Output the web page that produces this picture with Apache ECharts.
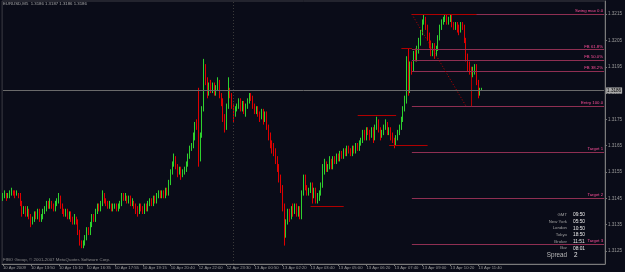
<!DOCTYPE html>
<html><head><meta charset="utf-8">
<script src="https://cdn.jsdelivr.net/npm/echarts@6/dist/echarts.min.js"></script>
<style>html,body{margin:0;padding:0;background:#0a0c18;}#c{width:625px;height:272px;}</style>
</head><body><div id="c"></div>
<script>
// ---- data (EURUSD M5) ----
const opens = [
1.3145,1.3146,1.3147,1.3145,1.3146,1.3147,1.3148,1.3147,1.3146,1.3147,
1.3146,1.3143,1.3140,1.3141,1.3139,1.3141,1.3138,1.3136,1.3137,1.3139,
1.3138,1.3140,1.3137,1.3138,1.3140,1.3141,1.3143,1.3142,1.3144,1.3142,
1.3141,1.3143,1.3144,1.3146,1.3142,1.3140,1.3139,1.3140,1.3138,1.3139,
1.3137,1.3136,1.3138,1.3136,1.3132,1.3128,1.3127,1.3128,1.3130,1.3133,
1.3132,1.3135,1.3138,1.3137,1.3140,1.3142,1.3141,1.3143,1.3147,1.3144,
1.3143,1.3142,1.3143,1.3141,1.3142,1.3142,1.3141,1.3142,1.3143,1.3146,
1.3145,1.3146,1.3144,1.3145,1.3143,1.3144,1.3142,1.3141,1.3140,1.3142,
1.3141,1.3140,1.3142,1.3141,1.3143,1.3144,1.3143,1.3145,1.3144,1.3146,
1.3147,1.3146,1.3147,1.3146,1.3148,1.3147,1.3151,1.3155,1.3158,1.3160,
1.3157,1.3155,1.3156,1.3154,1.3155,1.3156,1.3158,1.3161,1.3164,1.3165,
1.3168,1.3173,1.3172,1.3160,1.3169,1.3179,1.3195,1.3190,1.3185,1.3188,
1.3186,1.3188,1.3185,1.3187,1.3189,1.3184,1.3182,1.3176,1.3172,1.3180,
1.3186,1.3184,1.3180,1.3177,1.3179,1.3180,1.3182,1.3179,1.3181,1.3178,
1.3180,1.3182,1.3184,1.3183,1.3180,1.3178,1.3179,1.3177,1.3176,1.3178,
1.3175,1.3177,1.3172,1.3169,1.3166,1.3164,1.3163,1.3160,1.3157,1.3153,
1.3149,1.3142,1.3132,1.3136,1.3140,1.3138,1.3141,1.3140,1.3142,1.3139,
1.3141,1.3138,1.3147,1.3152,1.3149,1.3147,1.3148,1.3150,1.3146,1.3148,
1.3144,1.3145,1.3147,1.3150,1.3155,1.3158,1.3156,1.3157,1.3159,1.3157,
1.3160,1.3159,1.3161,1.3160,1.3162,1.3161,1.3163,1.3162,1.3164,1.3163,
1.3162,1.3164,1.3163,1.3165,1.3164,1.3166,1.3167,1.3170,1.3168,1.3171,
1.3170,1.3169,1.3171,1.3168,1.3172,1.3174,1.3171,1.3169,1.3170,1.3172,
1.3173,1.3170,1.3171,1.3169,1.3167,1.3166,1.3168,1.3170,1.3172,1.3175,
1.3179,1.3182,1.3196,1.3186,1.3196,1.3194,1.3200,1.3198,1.3201,1.3204,
1.3208,1.3212,1.3213,1.3210,1.3207,1.3204,1.3201,1.3203,1.3200,1.3202,
1.3206,1.3210,1.3212,1.3213,1.3214,1.3212,1.3213,1.3214,1.3211,1.3210,
1.3211,1.3210,1.3209,1.3211,1.3210,1.3205,1.3199,1.3195,1.3194,1.3192,
1.3193,1.3195,1.3189,1.3185,1.3186];
const closes = [
1.3146,1.3147,1.3145,1.3146,1.3147,1.3148,1.3147,1.3146,1.3147,1.3146,
1.3143,1.3140,1.3141,1.3139,1.3141,1.3138,1.3136,1.3137,1.3139,1.3138,
1.3140,1.3137,1.3138,1.3140,1.3141,1.3143,1.3142,1.3144,1.3142,1.3141,
1.3143,1.3144,1.3146,1.3142,1.3140,1.3139,1.3140,1.3138,1.3139,1.3137,
1.3136,1.3138,1.3136,1.3132,1.3128,1.3127,1.3128,1.3130,1.3133,1.3132,
1.3135,1.3138,1.3137,1.3140,1.3142,1.3141,1.3143,1.3147,1.3144,1.3143,
1.3142,1.3143,1.3141,1.3142,1.3142,1.3141,1.3142,1.3143,1.3146,1.3145,
1.3146,1.3144,1.3145,1.3143,1.3144,1.3142,1.3141,1.3140,1.3142,1.3141,
1.3140,1.3142,1.3141,1.3143,1.3144,1.3143,1.3145,1.3144,1.3146,1.3147,
1.3146,1.3147,1.3146,1.3148,1.3147,1.3151,1.3155,1.3158,1.3160,1.3157,
1.3155,1.3156,1.3154,1.3155,1.3156,1.3158,1.3161,1.3164,1.3165,1.3168,
1.3173,1.3172,1.3160,1.3169,1.3179,1.3195,1.3190,1.3185,1.3188,1.3186,
1.3188,1.3185,1.3187,1.3189,1.3184,1.3182,1.3176,1.3172,1.3180,1.3186,
1.3184,1.3180,1.3177,1.3179,1.3180,1.3182,1.3179,1.3181,1.3178,1.3180,
1.3182,1.3184,1.3183,1.3180,1.3178,1.3179,1.3177,1.3176,1.3178,1.3175,
1.3177,1.3172,1.3169,1.3166,1.3164,1.3163,1.3160,1.3157,1.3153,1.3149,
1.3142,1.3132,1.3136,1.3140,1.3138,1.3141,1.3140,1.3142,1.3139,1.3141,
1.3138,1.3147,1.3152,1.3149,1.3147,1.3148,1.3150,1.3146,1.3148,1.3144,
1.3145,1.3147,1.3150,1.3155,1.3158,1.3156,1.3157,1.3159,1.3157,1.3160,
1.3159,1.3161,1.3160,1.3162,1.3161,1.3163,1.3162,1.3164,1.3163,1.3162,
1.3164,1.3163,1.3165,1.3164,1.3166,1.3167,1.3170,1.3168,1.3171,1.3170,
1.3169,1.3171,1.3168,1.3172,1.3174,1.3171,1.3169,1.3170,1.3172,1.3173,
1.3170,1.3171,1.3169,1.3167,1.3166,1.3168,1.3170,1.3172,1.3175,1.3179,
1.3182,1.3196,1.3186,1.3196,1.3194,1.3200,1.3198,1.3201,1.3204,1.3208,
1.3212,1.3213,1.3210,1.3207,1.3204,1.3201,1.3203,1.3200,1.3202,1.3206,
1.3210,1.3212,1.3213,1.3214,1.3212,1.3213,1.3214,1.3211,1.3210,1.3211,
1.3210,1.3209,1.3211,1.3210,1.3205,1.3199,1.3195,1.3194,1.3192,1.3193,
1.3195,1.3189,1.3185,1.3186,1.3186];
const highs = [
1.3147,1.3148,1.3147,1.3147,1.3148,1.3149,1.3148,1.3148,1.3148,1.3147,
1.3147,1.3144,1.3142,1.3142,1.3142,1.3141,1.3139,1.3138,1.3140,1.3140,
1.3141,1.3141,1.3139,1.3141,1.3142,1.3144,1.3144,1.3145,1.3144,1.3143,
1.3144,1.3145,1.3147,1.3146,1.3143,1.3141,1.3141,1.3141,1.3140,1.3140,
1.3138,1.3139,1.3138,1.3137,1.3133,1.3129,1.3129,1.3131,1.3134,1.3134,
1.3136,1.3139,1.3139,1.3141,1.3143,1.3143,1.3144,1.3148,1.3147,1.3145,
1.3144,1.3144,1.3143,1.3143,1.3143,1.3143,1.3143,1.3144,1.3147,1.3147,
1.3147,1.3146,1.3146,1.3146,1.3145,1.3144,1.3143,1.3142,1.3143,1.3143,
1.3142,1.3143,1.3143,1.3144,1.3145,1.3145,1.3146,1.3146,1.3147,1.3148,
1.3148,1.3148,1.3148,1.3149,1.3149,1.3152,1.3156,1.3159,1.3162,1.3161,
1.3158,1.3157,1.3157,1.3156,1.3157,1.3159,1.3162,1.3165,1.3166,1.3170,
1.3174,1.3175,1.3187,1.3170,1.3180,1.3198,1.3196,1.3191,1.3189,1.3190,
1.3189,1.3189,1.3188,1.3191,1.3190,1.3185,1.3183,1.3177,1.3181,1.3191,
1.3187,1.3185,1.3181,1.3180,1.3181,1.3183,1.3183,1.3182,1.3182,1.3181,
1.3183,1.3185,1.3185,1.3184,1.3181,1.3180,1.3180,1.3178,1.3179,1.3179,
1.3178,1.3178,1.3173,1.3170,1.3167,1.3166,1.3164,1.3161,1.3158,1.3154,
1.3150,1.3143,1.3137,1.3141,1.3141,1.3142,1.3143,1.3143,1.3143,1.3142,
1.3142,1.3148,1.3154,1.3154,1.3150,1.3149,1.3151,1.3151,1.3149,1.3149,
1.3147,1.3148,1.3151,1.3158,1.3160,1.3159,1.3158,1.3161,1.3160,1.3161,
1.3161,1.3162,1.3162,1.3163,1.3163,1.3164,1.3164,1.3165,1.3165,1.3164,
1.3165,1.3165,1.3166,1.3166,1.3167,1.3168,1.3171,1.3171,1.3172,1.3172,
1.3171,1.3172,1.3172,1.3173,1.3176,1.3175,1.3172,1.3171,1.3173,1.3175,
1.3174,1.3172,1.3172,1.3170,1.3168,1.3169,1.3171,1.3173,1.3176,1.3180,
1.3184,1.3199,1.3202,1.3197,1.3197,1.3201,1.3202,1.3203,1.3206,1.3209,
1.3213,1.3215,1.3214,1.3211,1.3208,1.3205,1.3204,1.3204,1.3203,1.3207,
1.3211,1.3213,1.3214,1.3215,1.3215,1.3214,1.3215,1.3215,1.3212,1.3212,
1.3212,1.3211,1.3212,1.3212,1.3211,1.3206,1.3200,1.3197,1.3195,1.3195,
1.3196,1.3196,1.3190,1.3187,1.3187];
const lows = [
1.3144,1.3145,1.3144,1.3145,1.3145,1.3146,1.3146,1.3145,1.3146,1.3145,
1.3142,1.3138,1.3139,1.3138,1.3138,1.3137,1.3134,1.3135,1.3136,1.3137,
1.3137,1.3136,1.3136,1.3137,1.3139,1.3140,1.3141,1.3141,1.3141,1.3140,
1.3140,1.3142,1.3143,1.3141,1.3139,1.3138,1.3138,1.3137,1.3137,1.3136,
1.3135,1.3135,1.3135,1.3131,1.3127,1.3126,1.3126,1.3127,1.3129,1.3131,
1.3131,1.3134,1.3136,1.3136,1.3139,1.3140,1.3140,1.3142,1.3143,1.3142,
1.3141,1.3141,1.3140,1.3140,1.3141,1.3140,1.3140,1.3141,1.3142,1.3144,
1.3144,1.3143,1.3143,1.3142,1.3142,1.3141,1.3139,1.3138,1.3139,1.3140,
1.3139,1.3139,1.3140,1.3140,1.3142,1.3142,1.3142,1.3143,1.3143,1.3145,
1.3145,1.3145,1.3145,1.3145,1.3146,1.3146,1.3150,1.3154,1.3157,1.3156,
1.3153,1.3154,1.3152,1.3153,1.3154,1.3155,1.3157,1.3160,1.3163,1.3164,
1.3167,1.3171,1.3157,1.3159,1.3168,1.3178,1.3188,1.3183,1.3184,1.3185,
1.3185,1.3184,1.3184,1.3186,1.3183,1.3180,1.3174,1.3170,1.3171,1.3179,
1.3183,1.3179,1.3174,1.3176,1.3178,1.3179,1.3178,1.3178,1.3177,1.3176,
1.3179,1.3181,1.3182,1.3179,1.3177,1.3177,1.3176,1.3174,1.3175,1.3173,
1.3174,1.3171,1.3167,1.3164,1.3162,1.3161,1.3158,1.3155,1.3151,1.3147,
1.3140,1.3127,1.3130,1.3135,1.3136,1.3137,1.3138,1.3139,1.3138,1.3138,
1.3137,1.3137,1.3146,1.3148,1.3146,1.3146,1.3147,1.3143,1.3145,1.3143,
1.3143,1.3144,1.3146,1.3149,1.3154,1.3155,1.3155,1.3156,1.3156,1.3156,
1.3158,1.3158,1.3159,1.3159,1.3160,1.3160,1.3161,1.3161,1.3162,1.3161,
1.3161,1.3162,1.3162,1.3163,1.3163,1.3165,1.3166,1.3167,1.3167,1.3169,
1.3167,1.3168,1.3166,1.3167,1.3171,1.3170,1.3167,1.3168,1.3169,1.3171,
1.3169,1.3169,1.3167,1.3166,1.3164,1.3165,1.3167,1.3169,1.3171,1.3174,
1.3178,1.3181,1.3184,1.3185,1.3192,1.3193,1.3197,1.3197,1.3200,1.3203,
1.3207,1.3211,1.3209,1.3205,1.3202,1.3199,1.3199,1.3198,1.3199,1.3201,
1.3205,1.3209,1.3211,1.3212,1.3211,1.3211,1.3212,1.3210,1.3209,1.3209,
1.3208,1.3207,1.3208,1.3209,1.3204,1.3197,1.3193,1.3192,1.3190,1.3191,
1.3192,1.3188,1.3183,1.3184,1.3186];

const xTickLabels = ["10 Apr 2009","10 Apr 13:50","10 Apr 15:10","10 Apr 16:35","10 Apr 17:55","10 Apr 19:15",
  "10 Apr 20:40","12 Apr 22:00","12 Apr 23:30","13 Apr 00:50","13 Apr 02:20","13 Apr 03:40","13 Apr 05:00",
  "13 Apr 06:20","13 Apr 07:40","13 Apr 09:00","13 Apr 10:20","13 Apr 11:40"];
const barsPerLabel = 16;
const totalSlots = 345;            // bars + empty chart shift on the right
const yTickLabels = [1.3125,1.3135,1.3145,1.3155,1.3165,1.3175,1.3185,1.3195,1.3205,1.3215];

const fibNames  = ["Swing max 0.0","FB 61.8%","FB 50.0%","FB 38.2%","Entry 100.0","Target 1","Target 2","Target 3"];
const fibLevels = [1.3215,1.32016,1.31975,1.31934,1.3180,1.31625,1.3145,1.31275];
const fibStartBar = 234;
const fibTrend = [[234,1.3215],[265,1.3180]];
const redSegments = [[203,225,1.31765],[221,243,1.3165],[176,195,1.3142],[228,234,1.3202],[234,271,1.3215]];
const redVertical = [[268,1.3192],[268,1.3180]];
const daySeparatorBar = 132;

const sessionNames = ["GMT","New York","London","Tokyo","Broker","Bar"];
const sessionTimes = ["09:50","05:50","10:50","18:50","11:51","08:01"];
const spreadValue = 2;

// ---- build ----
const N = opens.length;
const cats = [];
for (let i = 0; i < totalSlots; i++) cats.push(String(i));
const candles = opens.map((o, i) => [o, closes[i], lows[i], highs[i]]);
const last = N - 1;
const lastPrice = closes[last];

const FONT = 'Liberation Sans, Arial, sans-serif';
const fibLine = '#8f2f52', fibText = '#ff4f9a', redLine = '#b00000';

const ml = [];
fibLevels.forEach((v, k) => {
  ml.push([{coord:[fibStartBar, v], lineStyle:{color:fibLine,width:1,type:'solid'},
            label:{show:true, position:'insideEndTop', formatter:fibNames[k], color:fibText, fontSize:4.3, fontFamily:FONT, distance:[1,1]}},
           {coord:[totalSlots-1, v]}]);
});
redSegments.forEach(s => {
  ml.push([{coord:[s[0], s[2]], lineStyle:{color:redLine,width:1,type:'solid'}, label:{show:false}}, {coord:[s[1], s[2]]}]);
});
ml.push([{coord:fibTrend[0], lineStyle:{color:'#c00000',width:1,type:[1,2]}, label:{show:false}}, {coord:fibTrend[1]}]);
ml.push([{coord:redVertical[0], lineStyle:{color:redLine,width:1,type:'solid'}, label:{show:false}}, {coord:redVertical[1]}]);
ml.push({xAxis: daySeparatorBar, lineStyle:{color:'#3a3a3a',width:1,type:[1,2]}, label:{show:false}});
ml.push([{coord:[0, lastPrice], lineStyle:{color:'#6a6a6a',width:1,type:'solid'},
          label:{show:true, position:'end', distance:2, formatter:lastPrice.toFixed(4), color:'#000',
                 backgroundColor:'#a8a8a8', fontSize:4.6, fontFamily:FONT, padding:[1,1,0,1]}},
         {coord:[totalSlots-1, lastPrice]}]);

const graphics = [
  {type:'text', left:3, top:2, style:{text:'EURUSD,M5  ' + [opens[last],highs[last],lows[last],closes[last]].map(v=>v.toFixed(4)).join(' '),
     fill:'#a8a8a8', font:'4.3px ' + FONT}},
  {type:'text', left:3, top:258, style:{text:'FIBO Group, \u00a9 2001-2007 MetaQuotes Software Corp.', fill:'#8a8a8a', font:'4.4px ' + FONT}}
];
sessionNames.forEach((n, k) => {
  const y = 215 + k * 6.65;
  graphics.push({type:'text', x:567, y:y, style:{text:n, fill:'#a0a0a0', font:'4.3px ' + FONT, textAlign:'right', textVerticalAlign:'middle'}});
  graphics.push({type:'text', x:573, y:y, style:{text:sessionTimes[k], fill:'#e8e8e8', font:'4.8px ' + FONT, textAlign:'left', textVerticalAlign:'middle'}});
});
graphics.push({type:'text', x:567, y:255, style:{text:'Spread', fill:'#b8b8b8', font:'6.3px ' + FONT, textAlign:'right', textVerticalAlign:'middle'}});
graphics.push({type:'text', x:574, y:255, style:{text:String(spreadValue), fill:'#e8e8e8', font:'6.3px ' + FONT, textAlign:'left', textVerticalAlign:'middle'}});

const chart = echarts.init(document.getElementById('c'), null, {renderer:'canvas'});
chart.setOption({
  backgroundColor:'#0a0c18',
  animation:false,
  grid:{left:1, right:17, top:1, bottom:8, show:true, borderColor:'#3c3c44', borderWidth:1},
  xAxis:{type:'category', data:cats, boundaryGap:true,
    axisLine:{show:true, lineStyle:{color:'#7a7a7a'}},
    axisTick:{show:true, alignWithLabel:true, length:2, lineStyle:{color:'#7a7a7a'},
      interval:(i)=> i % barsPerLabel === 0 && i / barsPerLabel < xTickLabels.length},
    axisLabel:{show:true, align:'left', margin:2, fontSize:4.2, fontFamily:FONT, color:'#9a9a9a',
      interval:(i)=> i % barsPerLabel === 0 && i / barsPerLabel < xTickLabels.length,
      formatter:(v, i)=> xTickLabels[i / barsPerLabel] || ''},
    splitLine:{show:false}},
  yAxis:{type:'value', position:'right', min:1.3120, max:1.3220, scale:true,
    axisLine:{show:true, lineStyle:{color:'#7a7a7a'}},
    axisTick:{show:true, length:2, customValues:yTickLabels, lineStyle:{color:'#7a7a7a'}},
    axisLabel:{show:true, customValues:yTickLabels, margin:3, fontSize:4.6, fontFamily:FONT, color:'#9a9a9a',
      formatter:(v)=> v.toFixed(4)},
    splitLine:{show:false}},
  series:[{
    type:'candlestick', data:candles, barWidth:1.2, large:false,
    itemStyle:{color:'#2ed12e', color0:'#e00000', borderColor:'#2ed12e', borderColor0:'#e00000', borderColorDoji:'#2ed12e', borderWidth:1},
    markLine:{silent:true, symbol:['none','none'], animation:false, data:ml}
  }],
  graphic:graphics
});
</script></body></html>
